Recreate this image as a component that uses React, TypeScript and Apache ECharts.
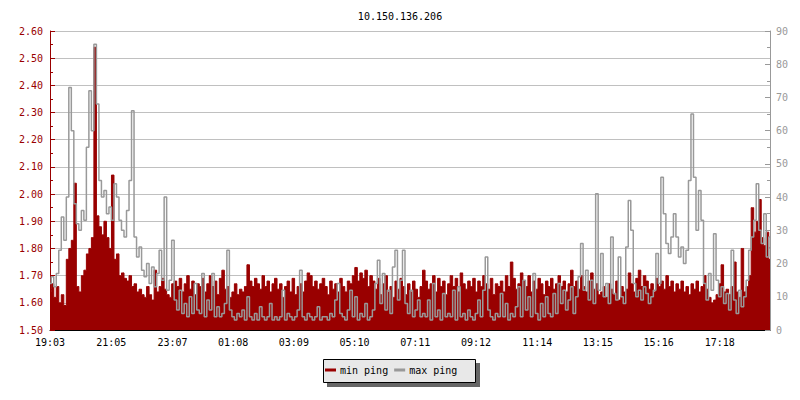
import React, { useEffect, useRef } from 'react';
import * as echarts from 'echarts';

const chartTitle = '10.150.136.206';
const startTime = '19:03';
const sampleMinutes = 5;
const timeLabels = ['19:03', '21:05', '23:07', '01:08', '03:09', '05:10', '07:11', '09:12', '11:14', '13:15', '15:16', '17:18'];
const seriesNames = ['min ping', 'max ping'];

const minPing = [
  1.64, 1.67, 1.62, 1.66, 1.60, 1.63, 1.59, 1.76, 1.80, 1.83,
  2.04, 1.66, 1.64, 1.70, 1.72, 1.78, 1.80, 1.84, 2.54, 1.92,
  1.88, 1.85, 1.90, 1.84, 1.80, 2.07, 1.76, 1.78, 1.70, 1.71,
  1.69, 1.68, 1.70, 1.66, 1.67, 1.64, 1.65, 1.63, 1.62, 1.66,
  1.63, 1.61, 1.72, 1.64, 1.66, 1.69, 1.65, 1.63, 1.62, 1.67,
  1.68, 1.66, 1.69, 1.64, 1.67, 1.70, 1.65, 1.68, 1.63, 1.67,
  1.66, 1.69, 1.64, 1.67, 1.70, 1.66, 1.68, 1.63, 1.69, 1.72,
  1.65, 1.66, 1.62, 1.64, 1.67, 1.63, 1.65, 1.64, 1.66, 1.74,
  1.68, 1.66, 1.69, 1.67, 1.65, 1.70, 1.66, 1.68, 1.64, 1.67,
  1.69, 1.65, 1.67, 1.62, 1.66, 1.68, 1.64, 1.69, 1.63, 1.66,
  1.67, 1.64, 1.68, 1.71, 1.70, 1.66, 1.68, 1.65, 1.67, 1.69,
  1.66, 1.63, 1.68, 1.65, 1.67, 1.64, 1.69, 1.66, 1.64, 1.68,
  1.67, 1.70, 1.73, 1.68, 1.71, 1.69, 1.72, 1.66, 1.70, 1.68,
  1.65, 1.69, 1.63, 1.67, 1.70, 1.64, 1.66, 1.62, 1.68, 1.65,
  1.69, 1.66, 1.63, 1.67, 1.64, 1.68, 1.65, 1.62, 1.66, 1.72,
  1.68, 1.65, 1.67, 1.70, 1.64, 1.69, 1.66, 1.68, 1.63, 1.67,
  1.70, 1.66, 1.69, 1.64, 1.71, 1.67, 1.65, 1.68, 1.66, 1.69,
  1.64, 1.68, 1.66, 1.70, 1.67, 1.65, 1.69, 1.63, 1.67, 1.66,
  1.68, 1.64, 1.70, 1.66, 1.75, 1.69, 1.65, 1.67, 1.71, 1.68,
  1.66, 1.70, 1.64, 1.68, 1.65, 1.69, 1.67, 1.63, 1.68, 1.66,
  1.69, 1.65, 1.67, 1.70, 1.66, 1.68, 1.64, 1.67, 1.72, 1.66,
  1.68, 1.65, 1.70, 1.66, 1.64, 1.68, 1.71, 1.65, 1.67, 1.63,
  1.64, 1.66, 1.62, 1.67, 1.65, 1.63, 1.68, 1.61, 1.66, 1.64,
  1.65, 1.71, 1.67, 1.64, 1.69, 1.72, 1.66, 1.70, 1.68, 1.65,
  1.67, 1.64, 1.69, 1.66, 1.68, 1.65, 1.70, 1.66, 1.68, 1.64,
  1.67, 1.65, 1.68, 1.64, 1.66, 1.63, 1.67, 1.65, 1.68, 1.64,
  1.66, 1.70, 1.65, 1.62, 1.60, 1.61, 1.63, 1.67, 1.74, 1.64,
  1.65, 1.63, 1.66, 1.75, 1.64, 1.62, 1.80, 1.64, 1.66, 1.70,
  1.95, 1.86, 1.90, 1.98, 1.84, 1.81, 1.86, 1.76,
];

const maxPing = [
  14, 16, 13, 17, 24, 34, 27, 40, 73, 60,
  38, 32, 30, 36, 33, 55, 72, 60, 86, 68,
  45, 40, 42, 35, 37, 33, 44, 40, 33, 30,
  28, 36, 45, 66, 28, 22, 25, 18, 16, 20,
  14, 19, 13, 17, 24, 15, 40, 12, 15, 27,
  9, 6, 12, 5, 8, 4, 10, 5, 14, 6,
  5, 17, 4, 9, 6, 17, 4, 7, 4, 5,
  8, 24, 6, 4, 3, 5, 4, 6, 3, 10,
  4, 3, 5, 3, 7, 4, 3, 4, 8, 3,
  4, 3, 4, 12, 3, 5, 4, 3, 4, 6,
  18, 4, 3, 5, 4, 3, 4, 7, 3, 4,
  4, 3, 5, 4, 9, 14, 5, 4, 3, 6,
  12, 4, 10, 3, 5, 4, 8, 3, 4, 6,
  14, 21, 8, 17, 6, 12, 5, 19, 24, 9,
  15, 24, 8, 5, 12, 4, 6, 9, 4, 5,
  4, 9, 3, 14, 4, 6, 3, 11, 4, 5,
  4, 12, 3, 13, 4, 5, 3, 6, 4, 3,
  5, 9, 4, 12, 22, 6, 4, 3, 5, 4,
  11, 4, 8, 3, 5, 4, 7, 13, 4, 15,
  6, 10, 4, 17, 5, 3, 8, 4, 10, 5,
  4, 11, 5, 14, 8, 12, 6, 9, 13, 5,
  10, 16, 26, 12, 18, 9, 15, 8, 41, 12,
  23, 10, 14, 8, 28, 11, 9, 22, 10, 8,
  25, 39, 30, 14, 10, 12, 9, 13, 11, 8,
  10, 12, 23, 14, 46, 35, 26, 23, 28, 35,
  28, 22, 25, 20, 24, 45, 65, 46, 30, 42,
  33, 14, 9, 17, 12, 29, 15, 10, 13, 8,
  11, 6, 24, 9, 5, 12, 7, 10, 15, 24,
  28, 33, 44, 30, 26, 35, 22, 28,
];

const FONT = 'DejaVu Sans Mono';

function toMinutes(t: string): number {
  const [h, m] = t.split(':').map(Number);
  return h * 60 + m;
}

function minutesFromStart(t: string): number {
  let d = toMinutes(t) - toMinutes(startTime);
  if (d < 0) d += 1440;
  return d;
}

export default function App() {
  const ref = useRef<HTMLDivElement>(null);

  useEffect(() => {
    document.body.style.margin = '0';
    const chart = echarts.init(ref.current!, null, { renderer: 'svg' });

    const tickValues = timeLabels.map((t) => minutesFromStart(t) / sampleMinutes);
    const labelFor = (v: number) => {
      for (let i = 0; i < tickValues.length; i++) {
        if (Math.abs(tickValues[i] - v) < 0.01) return timeLabels[i];
      }
      return '';
    };

    const minData = minPing.map((v, i) => [i, v]);
    const maxData = maxPing.map((v, i) => [i, v]);

    chart.setOption({
      animation: false,
      backgroundColor: '#ffffff',
      title: {
        text: chartTitle,
        left: 'center',
        top: 6,
        textStyle: { fontFamily: FONT, fontSize: 10, fontWeight: 'normal', color: '#000' },
      },
      grid: { left: 50, right: 30, top: 31, bottom: 70, outerBoundsMode: 'none' },
      graphic: [
        { type: 'rect', z: 1, shape: { x: 327, y: 363, width: 153, height: 24 }, style: { fill: '#666666' } },
        { type: 'rect', z: 2, shape: { x: 323.5, y: 359.5, width: 152, height: 23 }, style: { fill: '#e8e8e8', stroke: '#000', lineWidth: 1 } },
      ],
      legend: {
        data: seriesNames,
        left: 325,
        top: 365,
        z: 10,
        icon: 'rect',
        itemWidth: 11,
        itemHeight: 3,
        itemGap: 6,
        padding: 0,
        textStyle: { fontFamily: FONT, fontSize: 10, color: '#000', padding: [0, 0, 0, -1] },
      },
      xAxis: {
        type: 'value',
        min: 0,
        max: minPing.length - 1,
        axisLine: { show: true, lineStyle: { color: '#000', width: 1 } },
        axisTick: { show: true, inside: true, length: 4, customValues: tickValues, lineStyle: { color: '#000' } },
        axisLabel: {
          customValues: tickValues,
          formatter: (v: number) => labelFor(v),
          color: '#000',
          fontFamily: FONT,
          fontSize: 10,
          margin: 7,
        },
        splitLine: { show: false },
      },
      yAxis: [
        {
          type: 'value',
          position: 'left',
          min: 1.5,
          max: 2.6,
          interval: 0.1,
          axisLine: { show: true, lineStyle: { color: '#990000', width: 1 } },
          axisTick: { show: true, inside: true, length: 5, lineStyle: { color: '#990000' } },
          minorTick: { show: true, splitNumber: 2, length: 3, lineStyle: { color: '#990000' } },
          splitLine: { show: true, lineStyle: { color: '#c0c0c0', width: 1 } },
          axisLabel: {
            formatter: (v: number) => v.toFixed(2),
            color: '#990000',
            fontFamily: FONT,
            fontSize: 10,
            margin: 7,
          },
        },
        {
          type: 'value',
          position: 'right',
          min: 0,
          max: 90,
          interval: 10,
          axisLine: { show: true, lineStyle: { color: '#999999', width: 1 } },
          axisTick: { show: true, inside: true, length: 5, lineStyle: { color: '#999999' } },
          minorTick: { show: true, splitNumber: 2, length: 3, lineStyle: { color: '#999999' } },
          splitLine: { show: false },
          axisLabel: {
            formatter: (v: number) => String(Math.round(v)),
            color: '#999999',
            fontFamily: FONT,
            fontSize: 10,
            margin: 6,
          },
        },
      ],
      series: [
        {
          name: seriesNames[0],
          type: 'line',
          yAxisIndex: 0,
          data: minData,
          step: 'middle',
          showSymbol: false,
          symbol: 'none',
          color: '#990000',
          lineStyle: { color: '#990000', width: 1 },
          areaStyle: { color: '#990000', opacity: 1 },
          z: 2,
        },
        {
          name: seriesNames[1],
          type: 'line',
          yAxisIndex: 1,
          data: maxData,
          step: 'middle',
          showSymbol: false,
          symbol: 'none',
          color: '#999999',
          lineStyle: { color: '#999999', width: 1.5 },
          z: 3,
        },
      ],
    });

    return () => chart.dispose();
  }, []);

  return <div ref={ref} style={{ position: 'fixed', left: 0, top: 0, width: 800, height: 400 }} />;
}
